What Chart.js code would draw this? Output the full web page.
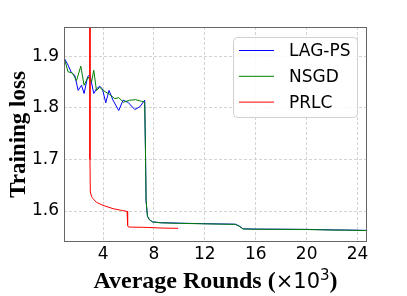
<!DOCTYPE html>
<html>
<head>
<meta charset="utf-8">
<script src="https://cdn.jsdelivr.net/npm/chart.js@4.4.1/dist/chart.umd.min.js"></script>
<style>
  body { margin: 0; background: #fff; }
  #wrap { width: 407px; height: 296px; }
</style>
</head>
<body>
<div id="wrap"><canvas id="lossChart" width="407" height="296"></canvas></div>
<script>
const SERIES_NAMES = ['LAG-PS', 'NSGD', 'PRLC'];
const SERIES_COLORS = ['#0000ff', '#008000', '#ff0000'];

// rounds in thousands
const lagX = [0.94, 1.25, 1.52, 1.78, 2.04, 2.31, 2.51, 2.78, 2.96, 3.27, 3.48, 3.74, 3.95, 4.21, 4.47, 4.78, 5.23, 5.57, 5.96, 6.49, 6.88, 7.27,
  7.33, 7.38, 7.49, 7.65, 7.9, 8.5, 10, 12, 14.4, 14.7, 15.0, 16, 18, 20, 22, 23, 24.74];
const lagY = [1.897, 1.883, 1.868, 1.863, 1.834, 1.844, 1.828, 1.86, 1.865, 1.828, 1.837, 1.842, 1.837, 1.81, 1.834, 1.815, 1.795, 1.815, 1.811, 1.797, 1.802, 1.815,
  1.72, 1.62, 1.59, 1.583, 1.579, 1.5775, 1.5765, 1.5755, 1.5745, 1.571, 1.5655, 1.565, 1.5648, 1.5645, 1.5635, 1.5632, 1.5625];

const nsgdX = [0.94, 1.25, 1.59, 1.91, 2.25, 2.51, 2.82, 3.09, 3.27, 3.48, 3.74, 4.0, 4.53, 4.92, 5.23, 5.62, 6.09, 6.56, 7.01, 7.27,
  7.33, 7.38, 7.49, 7.65, 7.9, 8.5, 10, 12, 14.4, 14.7, 15.0, 16, 18, 20, 22, 23, 24.74];
const nsgdY = [1.897, 1.870, 1.868, 1.853, 1.881, 1.844, 1.86, 1.85, 1.873, 1.834, 1.84, 1.834, 1.826, 1.818, 1.82, 1.811, 1.815, 1.816, 1.813, 1.811,
  1.72, 1.62, 1.59, 1.583, 1.579, 1.5772, 1.5762, 1.5752, 1.5742, 1.5705, 1.5652, 1.5648, 1.5645, 1.5642, 1.5632, 1.563, 1.5622];

const prlcX = [2.97, 2.97, 3.0, 3.1, 3.21, 3.48, 4.0, 4.79, 5.45, 5.89, 5.93, 6.0, 7.15, 8.72, 9.9];
const prlcY = [2.3, 1.70, 1.637, 1.628, 1.624, 1.617, 1.611, 1.6046, 1.6013, 1.5994, 1.572, 1.569, 1.5685, 1.567, 1.5665];

const xTicks = [4, 8, 12, 16, 20, 24];
const yTicks = [1.6, 1.7, 1.8, 1.9];
const xLimits = [0.93, 24.74];
const yLimits = [1.54, 1.957];

function toPoints(xs, ys) {
  return xs.map((x, i) => ({ x: x, y: ys[i] }));
}

const boxPlugin = {
  id: 'boxAndLegend',
  afterDatasetsDraw(chart) {
    const { ctx, chartArea } = chart;
    ctx.save();
    ctx.strokeStyle = '#666';
    ctx.lineWidth = 1;
    ctx.strokeRect(chartArea.left + 0.5, chartArea.top + 0.5, chartArea.right - chartArea.left - 1, chartArea.bottom - chartArea.top - 1);

    // legend inside top right
    const bx = 233, by = 37, bw = 124, bh = 80;
    ctx.beginPath();
    ctx.roundRect(bx + 0.5, by + 0.5, bw, bh, 4);
    ctx.fillStyle = 'rgba(255,255,255,0.85)';
    ctx.fill();
    ctx.strokeStyle = '#d0d0d0';
    ctx.stroke();
    ctx.font = '17px "DejaVu Sans"';
    ctx.textBaseline = 'middle';
    ctx.textAlign = 'left';
    chart.data.datasets.forEach((ds, i) => {
      const y = 50.5 + i * 25.8;
      ctx.beginPath();
      ctx.moveTo(239, y);
      ctx.lineTo(274, y);
      ctx.strokeStyle = ds.borderColor;
      ctx.lineWidth = 1;
      ctx.stroke();
      ctx.fillStyle = '#000';
      ctx.fillText(ds.label, 289, y + 1);
    });

    // x title: bold serif text + mathtext part
    const cx = (chartArea.left + chartArea.right) / 2;
    const base = 288;
    const partA = 'Average Rounds (';
    const fA = 'bold 24px "Liberation Serif"';
    const fB = '21px "DejaVu Sans"';
    const fC = '15px "DejaVu Sans"';
    ctx.font = fA; const wA = ctx.measureText(partA).width; const wP = ctx.measureText(')').width;
    ctx.font = fB; const wB = ctx.measureText('\u00d710').width;
    ctx.font = fC; const wC = ctx.measureText('3').width;
    let x = cx - (wA + wB + wC + wP) / 2;
    ctx.textBaseline = 'alphabetic';
    ctx.fillStyle = '#000';
    ctx.font = fA; ctx.fillText(partA, x, base); x += wA;
    ctx.font = fB; ctx.fillText('\u00d710', x, base); x += wB;
    ctx.font = fC; ctx.fillText('3', x, base - 8); x += wC;
    ctx.font = fA; ctx.fillText(')', x, base);
    ctx.restore();
  }
};

const datasets = [
  { label: SERIES_NAMES[0], data: toPoints(lagX, lagY), borderColor: SERIES_COLORS[0], order: 3 },
  { label: SERIES_NAMES[1], data: toPoints(nsgdX, nsgdY), borderColor: SERIES_COLORS[1], order: 2 },
  { label: SERIES_NAMES[2], data: toPoints(prlcX, prlcY), borderColor: SERIES_COLORS[2], order: 1 }
].map(d => Object.assign(d, { borderWidth: 1, pointRadius: 0, tension: 0, fill: false }));

new Chart(document.getElementById('lossChart').getContext('2d'), {
  type: 'line',
  data: { datasets: datasets },
  options: {
    responsive: false,
    animation: false,
    layout: { padding: { left: 0, top: 27, right: 40, bottom: 0 } },
    plugins: { legend: { display: false }, tooltip: { enabled: false } },
    scales: {
      x: {
        type: 'linear',
        min: xLimits[0],
        max: xLimits[1],
        afterBuildTicks: (s) => { s.ticks = xTicks.map(v => ({ value: v })); },
        afterFit: (s) => { s.height = 54; },
        ticks: { font: { family: 'DejaVu Sans', size: 17 }, color: '#000', padding: 2, maxRotation: 0 },
        grid: { color: '#d3d3d3', drawTicks: false },
        border: { display: false, dash: [3, 2] },
        title: { display: false }
      },
      y: {
        type: 'linear',
        min: yLimits[0],
        max: yLimits[1],
        afterBuildTicks: (s) => { s.ticks = yTicks.map(v => ({ value: v })); },
        afterFit: (s) => { s.width = 64; },
        ticks: { font: { family: 'DejaVu Sans', size: 17 }, color: '#000', padding: 5, callback: (v) => v.toFixed(1) },
        grid: { color: '#d3d3d3', drawTicks: false },
        border: { display: false, dash: [3, 2] },
        title: {
          display: true,
          text: 'Training loss',
          color: '#000',
          font: { family: 'Liberation Serif', size: 23, weight: 'bold' },
          padding: { top: 5, bottom: 0 }
        }
      }
    }
  },
  plugins: [boxPlugin]
});
</script>
</body>
</html>
